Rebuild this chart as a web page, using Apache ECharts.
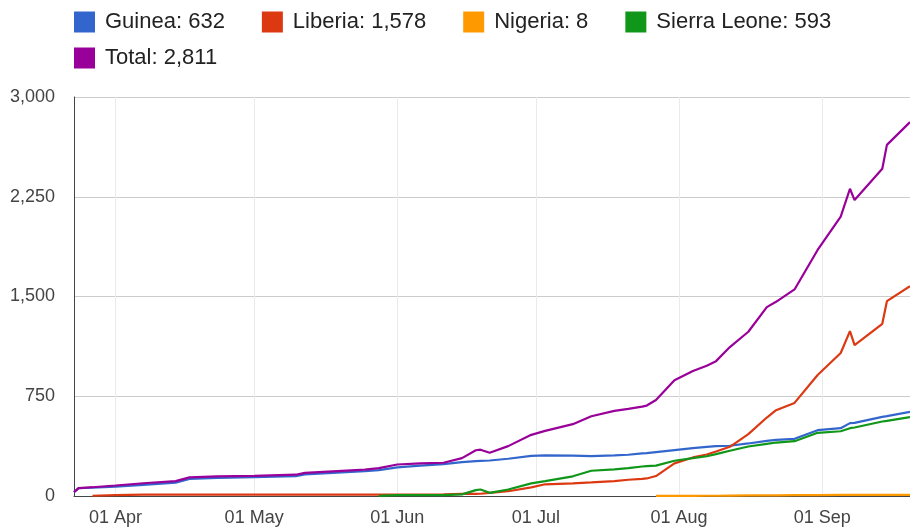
<!DOCTYPE html>
<html>
<head>
<meta charset="utf-8">
<script src="https://cdn.jsdelivr.net/npm/echarts@6/dist/echarts.min.js"></script>
<style>
html,body{margin:0;padding:0;background:#fff;}
#chart{width:910px;height:531px;}
</style>
</head>
<body>
<div id="chart"></div>
<script>
const dates = ['2014-03-23','2014-03-24','2014-03-27','2014-04-01','2014-04-07','2014-04-14','2014-04-17','2014-04-23','2014-05-01','2014-05-10','2014-05-12','2014-05-25','2014-05-28','2014-06-01','2014-06-06','2014-06-11','2014-06-15','2014-06-18','2014-06-19','2014-06-21','2014-06-25','2014-06-30','2014-07-03','2014-07-09','2014-07-13','2014-07-18','2014-07-21','2014-07-24','2014-07-25','2014-07-27','2014-07-31','2014-08-04','2014-08-07','2014-08-09','2014-08-12','2014-08-16','2014-08-20','2014-08-22','2014-08-26','2014-08-31','2014-09-05','2014-09-07','2014-09-08','2014-09-14','2014-09-15','2014-09-20'];

const guinea = [29,59,62,70,84,100,128,136,142,150,162,186,195,215,228,240,255,262,264,267,280,302,305,304,300,305,310,320,322,330,345,360,370,375,378,395,415,422,430,495,510,548,550,595,600,632];

const liberia = [null,null,2,7,10,11,11,11,11,11,11,11,11,11,11,12,16,16,17,24,36,65,88,95,102,112,122,129,132,150,245,290,312,335,370,465,590,645,700,910,1075,1240,1135,1295,1465,1578];

const nigeria = [null,null,null,null,null,null,null,null,null,null,null,null,null,null,null,null,null,null,null,null,null,null,null,null,null,null,null,null,null,1,1,1,2,2,3,4,5,5,6,7,8,8,8,8,8,8];

const sierraLeone = [null,null,null,null,null,null,null,null,null,null,null,null,1,6,6,7,12,44,49,24,49,95,112,148,190,200,210,222,224,228,265,285,299,315,340,372,392,402,412,475,487,510,515,560,565,593];

const total = [29,59,66,79,96,112,140,148,152,160,174,199,210,237,245,250,285,344,348,325,375,460,490,540,600,640,655,672,680,722,870,940,980,1014,1120,1235,1420,1460,1553,1850,2100,2310,2225,2460,2640,2811];

const yTicks = [0, 750, 1500, 2250, 3000];
const xMin = '2014-03-23';
const xMax = '2014-09-20';

const seriesDefs = [
  {name: 'Guinea', values: guinea, color: '#3366cc'},
  {name: 'Liberia', values: liberia, color: '#dc3912'},
  {name: 'Nigeria', values: nigeria, color: '#ff9900'},
  {name: 'Sierra Leone', values: sierraLeone, color: '#109618'},
  {name: 'Total', values: total, color: '#990099'}
];

const lastVal = {};
seriesDefs.forEach(s => {
  const v = s.values.filter(x => x != null);
  lastVal[s.name] = v[v.length - 1];
});
const fmtNum = n => n.toLocaleString('en-US');
const months = ['Jan','Feb','Mar','Apr','May','Jun','Jul','Aug','Sep','Oct','Nov','Dec'];

const legendCommon = {
  icon: 'rect',
  itemWidth: 21,
  itemHeight: 21,
  itemGap: 37,
  left: 74,
  padding: 0,
  orient: 'horizontal',
  textStyle: {fontSize: 22, color: '#222', fontFamily: 'Liberation Sans, Arial, sans-serif', padding: [0,0,0,5]},
  formatter: name => name + ': ' + fmtNum(lastVal[name])
};

const chart = echarts.init(document.getElementById('chart'), null, {renderer: 'canvas'});
chart.setOption({
  animation: false,
  color: seriesDefs.map(s => s.color),
  legend: [
    Object.assign({}, legendCommon, {top: 11, data: ['Guinea','Liberia','Nigeria','Sierra Leone']}),
    Object.assign({}, legendCommon, {top: 47, data: ['Total']})
  ],
  grid: {left: 74, right: 0, top: 97, bottom: 35, containLabel: false},
  xAxis: {
    type: 'time',
    min: xMin,
    max: xMax,
    minInterval: 28 * 86400000,
    maxInterval: 31 * 86400000,
    axisLine: {show: true, lineStyle: {color: '#444', width: 1}},
    axisTick: {show: false},
    splitLine: {show: true, lineStyle: {color: '#ebebeb', width: 1}},
    axisLabel: {
      showMinLabel: false,
      showMaxLabel: false,
      fontSize: 18,
      color: '#444',
      margin: 13,
      fontFamily: 'Liberation Sans, Arial, sans-serif',
      formatter: function (val) {
        const d = new Date(val);
        const dd = String(d.getDate()).padStart(2, '0');
        return dd + ' ' + months[d.getMonth()];
      }
    }
  },
  yAxis: {
    type: 'value',
    min: yTicks[0],
    max: yTicks[yTicks.length - 1],
    interval: yTicks[1] - yTicks[0],
    axisLine: {show: true, lineStyle: {color: '#444', width: 1}},
    axisTick: {show: false},
    splitLine: {show: true, lineStyle: {color: '#cccccc', width: 1}},
    axisLabel: {
      fontSize: 18,
      color: '#444',
      margin: 19,
      fontFamily: 'Liberation Sans, Arial, sans-serif',
      formatter: v => fmtNum(v)
    }
  },
  series: seriesDefs.map(s => ({
    name: s.name,
    type: 'line',
    showSymbol: false,
    symbol: 'none',
    lineStyle: {width: 2.2, color: s.color},
    itemStyle: {color: s.color},
    data: dates.map((d, i) => [d, s.values[i]])
  }))
});
</script>
</body>
</html>
